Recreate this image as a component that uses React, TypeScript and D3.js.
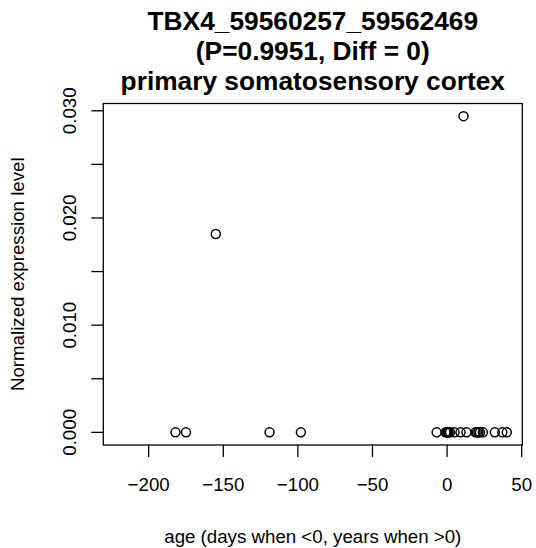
import React, { useEffect, useRef } from "react";
import * as d3 from "d3";

// sample ages (days when <0, years when >0) and expression values
const ages = [
  -182, -175, -155, -119, -98, -7, -1, 0, 0.3, 0.6, 1, 2, 5, 9, 11, 13, 19, 20,
  21, 22, 24, 32, 37, 40,
];
const values = [
  0, 0, 0.0185, 0, 0, 0, 0, 0, 0, 0, 0, 0, 0, 0, 0.0295, 0, 0, 0, 0, 0, 0, 0,
  0, 0,
];
const xLim = [-220, 40];
const xTicks = [-200, -150, -100, -50, 0, 50];
const yTicks = [0, 0.005, 0.01, 0.015, 0.02, 0.025, 0.03];
const yLabelTicks = [0, 0.01, 0.02, 0.03];
const titleLines = [
  "TBX4_59560257_59562469",
  "(P=0.9951, Diff = 0)",
  "primary somatosensory cortex",
];

const App: React.FC = () => {
  const svgRef = useRef<SVGSVGElement | null>(null);
  const width = 536;
  const height = 548;

  useEffect(() => {
    if (!svgRef.current) return;
    const svg = d3.select(svgRef.current);
    svg.selectAll("*").remove();

    const box = { left: 103.3, right: 522.3, top: 103.5, bottom: 445 };
    const font = "'Liberation Sans', Arial, Helvetica, sans-serif";
    const axisSize = "18.7px";

    // R-style 4% axis extension
    const xPad = (xLim[1] - xLim[0]) * 0.04;
    const yMax = d3.max(values) ?? 0;
    const yMin = d3.min(values) ?? 0;
    const yPad = (yMax - yMin) * 0.04;

    const x = d3
      .scaleLinear()
      .domain([xLim[0] - xPad, xLim[1] + xPad])
      .range([box.left, box.right]);
    const y = d3
      .scaleLinear()
      .domain([yMin - yPad, yMax + yPad])
      .range([box.bottom, box.top]);

    svg
      .append("rect")
      .attr("width", width)
      .attr("height", height)
      .attr("fill", "#fff");

    // plot frame
    svg
      .append("rect")
      .attr("x", box.left)
      .attr("y", box.top)
      .attr("width", box.right - box.left)
      .attr("height", box.bottom - box.top)
      .attr("fill", "none")
      .attr("stroke", "#000")
      .attr("stroke-width", 1.3);

    const tickLen = 12;

    // x axis
    svg
      .selectAll(".xtick")
      .data(xTicks)
      .enter()
      .append("line")
      .attr("x1", (d) => x(d))
      .attr("x2", (d) => x(d))
      .attr("y1", box.bottom)
      .attr("y2", box.bottom + tickLen)
      .attr("stroke", "#000")
      .attr("stroke-width", 1.3);

    svg
      .selectAll(".xlab")
      .data(xTicks)
      .enter()
      .append("text")
      .attr("x", (d) => x(d))
      .attr("y", 491)
      .attr("text-anchor", "middle")
      .style("font-family", font)
      .style("font-size", axisSize)
      .text((d) => (d < 0 ? "\u2212" + Math.abs(d) : String(d)));

    // y axis
    svg
      .selectAll(".ytick")
      .data(yTicks)
      .enter()
      .append("line")
      .attr("x1", box.left)
      .attr("x2", box.left - tickLen)
      .attr("y1", (d) => y(d))
      .attr("y2", (d) => y(d))
      .attr("stroke", "#000")
      .attr("stroke-width", 1.3);

    svg
      .selectAll(".ylab")
      .data(yLabelTicks)
      .enter()
      .append("text")
      .attr("transform", (d) => `translate(76, ${y(d)}) rotate(-90)`)
      .attr("text-anchor", "middle")
      .style("font-family", font)
      .style("font-size", axisSize)
      .text((d) => d3.format(".3f")(d));

    // points
    svg
      .selectAll(".pt")
      .data(ages.map((a, i) => ({ a, v: values[i] })))
      .enter()
      .append("circle")
      .attr("cx", (d) => x(d.a))
      .attr("cy", (d) => y(d.v))
      .attr("r", 4.5)
      .attr("fill", "none")
      .attr("stroke", "#000")
      .attr("stroke-width", 1.5);

    // titles
    const cx = (box.left + box.right) / 2;
    svg
      .selectAll(".title")
      .data(titleLines)
      .enter()
      .append("text")
      .attr("x", cx)
      .attr("y", (_, i) => 30 + i * 30)
      .attr("text-anchor", "middle")
      .style("font-family", font)
      .style("font-size", "26.3px")
      .style("font-weight", "bold")
      .text((d) => d);

    svg
      .append("text")
      .attr("x", cx)
      .attr("y", 543)
      .attr("text-anchor", "middle")
      .style("font-family", font)
      .style("font-size", axisSize)
      .text("age (days when <0, years when >0)");

    svg
      .append("text")
      .attr("transform", `translate(24, ${(box.top + box.bottom) / 2}) rotate(-90)`)
      .attr("text-anchor", "middle")
      .style("font-family", font)
      .style("font-size", axisSize)
      .text("Normalized expression level");
  }, []);

  return (
    <div style={{ position: "absolute", left: 0, top: 0 }}>
      <svg ref={svgRef} width={width} height={height} style={{ display: "block" }} />
    </div>
  );
};

export default App;
